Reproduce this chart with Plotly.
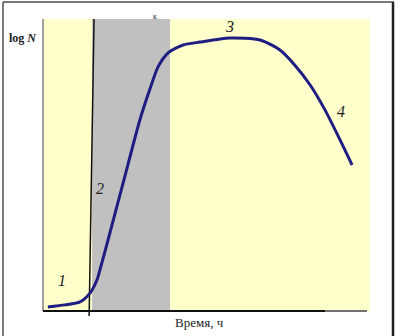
import plotly.graph_objects as go

# Growth curve (time in arbitrary units 0..100, log N in arbitrary units 0..100)
time_vals = [1.5, 6.8, 11.4, 14.5, 16.6, 17.5, 20.0, 24.9, 29.8, 32.9, 35.4, 38.5, 43.1,
             48.3, 57.5, 66.8, 72.9, 77.5, 82.2, 86.8, 91.4, 95.1]
logn_vals = [1.4, 2.1, 3.1, 6.2, 10.6, 14.0, 24.3, 44.9, 65.4, 76.0, 83.6, 88.4, 91.1,
             92.1, 93.5, 92.8, 89.4, 84.2, 77.4, 68.8, 58.6, 50.0]

phase_labels = ["1", "2", "3", "4"]
phase_x = [5.85, 17.5, 57.5, 91.7]
phase_y = [10.6, 42.1, 97.6, 68.2]

x_title = "Время, ч"
y_title = "<b>log <i>N</i></b>"

# pixel geometry -> data range (plot area spans the whole figure)
PX0, PX100 = 43, 368
PY0, PY100 = 311, 19
sx = (PX100 - PX0) / 100.0
sy = (PY0 - PY100) / 100.0
xr = [-PX0 / sx, 100 + (400 - PX100) / sx]
yr = [-(336 - PY0) / sy, 100 + PY100 / sy]

fig = go.Figure()
fig.add_trace(go.Scatter(x=time_vals, y=logn_vals, mode="lines",
                         line=dict(color="#1E1E82", width=3, shape="spline", smoothing=0.7),
                         hoverinfo="skip", showlegend=False))

shapes = []
# yellow plot background
shapes.append(dict(type="rect", xref="x", yref="y", x0=0, x1=100.6, y0=0, y1=100,
                   fillcolor="#FFFFCC", line=dict(width=0), layer="below"))
# gray band (exponential phase)
shapes.append(dict(type="rect", xref="x", yref="y", x0=15.1, x1=39.1, y0=0, y1=100,
                   fillcolor="#C0C0C0", line=dict(width=0), layer="below"))
# black vertical line
shapes.append(dict(type="line", xref="x", yref="y", x0=15.7, x1=14.2, y0=100, y1=-1.7,
                   line=dict(color="#111111", width=1.5), layer="below"))
# left axis
shapes.append(dict(type="line", xref="x", yref="y", x0=0, x1=0, y0=0, y1=100,
                   line=dict(color="#808080", width=1.5), layer="below"))
# bottom axis
shapes.append(dict(type="line", xref="x", yref="y", x0=0, x1=86.8, y0=0, y1=0,
                   line=dict(color="#111111", width=2), layer="below"))
shapes.append(dict(type="line", xref="x", yref="y", x0=86.8, x1=99.7, y0=0, y1=0,
                   line=dict(color="#707070", width=2), layer="below"))
# outer frame
shapes.append(dict(type="line", xref="paper", yref="paper", x0=3/400, x1=3/400, y0=0, y1=1-2/336,
                   line=dict(color="#7A7A7A", width=2)))
shapes.append(dict(type="line", xref="paper", yref="paper", x0=3/400, x1=394/400, y0=1-2/336, y1=1-2/336,
                   line=dict(color="#7A7A7A", width=2)))
shapes.append(dict(type="line", xref="paper", yref="paper", x0=393/400, x1=393/400, y0=0, y1=1-2/336,
                   line=dict(color="#222222", width=2.5)))

annotations = []
font_serif = "Liberation Serif"
for lab, x, y in zip(phase_labels, phase_x, phase_y):
    annotations.append(dict(x=x, y=y, xref="x", yref="y", text="<i>" + lab + "</i>",
                            showarrow=False, font=dict(family=font_serif, size=16, color="#222222")))
annotations.append(dict(x=-6.15, y=93.5, xref="x", yref="y", text=y_title, showarrow=False,
                        font=dict(family=font_serif, size=12, color="#222222")))
annotations.append(dict(x=48.3, y=-4.1, xref="x", yref="y", text=x_title, showarrow=False,
                        font=dict(family=font_serif, size=13, color="#222222")))
annotations.append(dict(x=34.5, y=100.8, xref="x", yref="y", text="к", showarrow=False,
                        font=dict(family=font_serif, size=8, color="#333333")))

fig.update_layout(
    width=400, height=336,
    margin=dict(l=0, r=0, t=0, b=0),
    paper_bgcolor="white", plot_bgcolor="white",
    xaxis=dict(range=xr, visible=False, fixedrange=True),
    yaxis=dict(range=yr, visible=False, fixedrange=True),
    shapes=shapes, annotations=annotations,
    showlegend=False,
)
fig.write_html("out.html")
